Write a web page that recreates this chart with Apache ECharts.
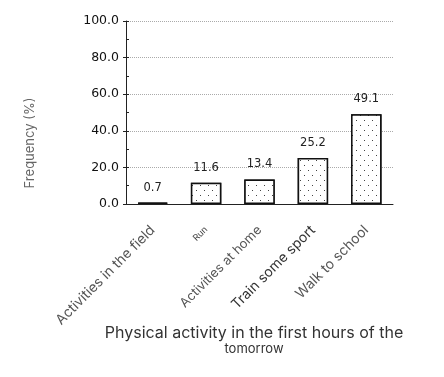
<!DOCTYPE html>
<html>
<head>
<meta charset="utf-8">
<script src="https://cdn.jsdelivr.net/npm/echarts@6/dist/echarts.min.js"></script>
<style>
  html, body { margin: 0; padding: 0; background: #fff; }
  #chart { width: 444px; height: 377px; }
</style>
</head>
<body>
<div id="chart"></div>
<script>
let categories = ['Activities in the field', 'Run', 'Activities at home', 'Train some sport', 'Walk to school']
let frequencies = [0.7, 11.6, 13.4, 25.2, 49.1]
let yTicks = [0, 20, 40, 60, 80, 100]
// the source image mixes label sizes, keep that look
let labelStyles = ['big', 'small', 'mid', 'dark', 'big']

let chart = echarts.init(document.getElementById('chart'))

let option = {
  backgroundColor: '#fff',
  animation: false,
  grid: { left: 126, right: 51, top: 21, bottom: 173 },
  xAxis: {
    type: 'category',
    data: categories,
    axisLine: { lineStyle: { color: '#222', width: 1 } },
    axisTick: { show: false },
    axisLabel: {
      rotate: 45,
      margin: 24,
      interval: 0,
      fontFamily: 'Inter',
      formatter: function (v, i) {
        return '{' + labelStyles[i] + '|' + v + '}'
      },
      rich: {
        big: { fontSize: 14, fontFamily: 'Inter', color: '#555' },
        mid: { fontSize: 13, fontFamily: 'Inter', color: '#555' },
        dark: { fontSize: 14, fontFamily: 'Inter', color: '#333' },
        small: { fontSize: 9, fontFamily: 'Inter', color: '#444' }
      }
    }
  },
  yAxis: [
    {
      type: 'value',
      min: yTicks[0],
      max: yTicks[yTicks.length - 1],
      interval: 20,
      axisLine: { show: true, lineStyle: { color: '#222', width: 1 } },
      axisTick: { show: true, length: 3, lineStyle: { color: '#222' } },
      axisLabel: {
        margin: 7,
        fontFamily: 'DejaVu Sans',
        fontSize: 12.5,
        color: '#111',
        formatter: v => v.toFixed(1)
      },
      splitLine: { show: true, lineStyle: { color: '#aaa', type: [1, 1], width: 1 } }
    },
    {
      // inner ticks only
      type: 'value',
      position: 'left',
      min: yTicks[0],
      max: yTicks[yTicks.length - 1],
      interval: 20,
      axisLine: { show: false },
      axisTick: { show: true, inside: true, length: 3, lineStyle: { color: '#222' } },
      minorTick: { show: true, splitNumber: 2, length: 3, lineStyle: { color: '#222' } },
      axisLabel: { show: false },
      splitLine: { show: false }
    }
  ],
  graphic: [
    {
      type: 'text',
      x: 30,
      y: 143,
      rotation: Math.PI / 2,
      style: {
        text: 'Frequency (%)',
        fontFamily: 'Inter',
        fontSize: 13,
        fill: '#666',
        align: 'center',
        verticalAlign: 'middle'
      }
    },
    {
      type: 'text',
      x: 254,
      y: 333,
      style: {
        text: 'Physical activity in the first hours of the',
        fontFamily: 'Inter',
        fontSize: 16,
        fill: '#333',
        align: 'center',
        verticalAlign: 'middle'
      }
    },
    {
      type: 'text',
      x: 254,
      y: 349,
      style: {
        text: 'tomorrow',
        fontFamily: 'Inter',
        fontSize: 13,
        fill: '#333',
        align: 'center',
        verticalAlign: 'middle'
      }
    }
  ],
  series: [{
    type: 'bar',
    data: frequencies,
    barWidth: '57%',
    itemStyle: {
      color: '#fff',
      borderColor: '#111',
      borderWidth: 1.5,
      decal: {
        symbol: 'rect',
        symbolSize: 1,
        color: '#444',
        backgroundColor: '#fff',
        dashArrayX: [[1, 7], [0, 4, 1, 3]],
        dashArrayY: [1, 4]
      }
    },
    label: {
      show: true,
      position: 'top',
      distance: 9,
      fontFamily: 'DejaVu Sans',
      fontSize: 11.5,
      color: '#222',
      formatter: p => p.value.toFixed(1)
    }
  }]
}
chart.setOption(option)
</script>
</body>
</html>
